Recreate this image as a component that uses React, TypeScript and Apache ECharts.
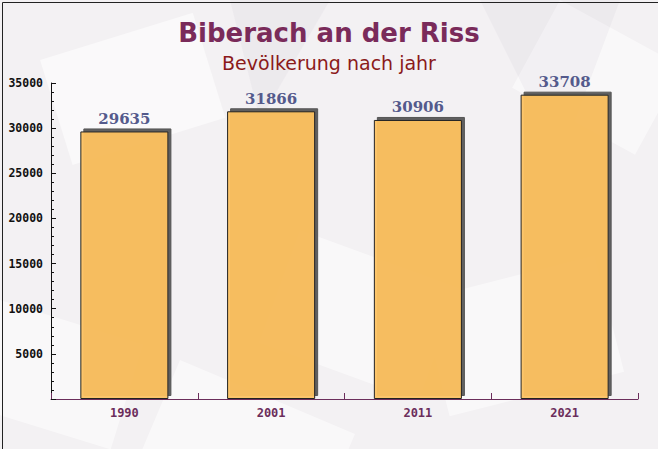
import React, { useEffect, useRef } from "react";
import * as echarts from "echarts";

const categories = ["1990", "2001", "2011", "2021"];
const population = [29635, 31866, 30906, 33708];
const titleText = "Biberach an der Riss";
const subtitleText = "Bevölkerung nach jahr";

export default function App() {
  const ref = useRef<HTMLDivElement>(null);
  useEffect(() => {
    document.body.style.margin = "0";
    const chart = echarts.init(ref.current!, null, { renderer: "svg" });
    const bgShapes: any[] = [
      { type: "rect", x: 40, y: 60, rotation: 0.3, shape: { width: 160, height: 110 }, style: { fill: "rgba(255,255,255,0.55)" } },
      { type: "rect", x: 300, y: 230, rotation: -0.35, shape: { width: 170, height: 120 }, style: { fill: "rgba(255,255,255,0.5)" } },
      { type: "rect", x: 420, y: 300, rotation: 0.25, shape: { width: 180, height: 120 }, style: { fill: "rgba(255,255,255,0.5)" } },
      { type: "rect", x: 0, y: 300, rotation: -0.3, shape: { width: 150, height: 110 }, style: { fill: "rgba(255,255,255,0.5)" } },
      { type: "rect", x: 180, y: 360, rotation: -0.4, shape: { width: 190, height: 130 }, style: { fill: "rgba(255,255,255,0.5)" } },
      { type: "rect", x: 560, y: 0, rotation: -0.5, shape: { width: 140, height: 100 }, style: { fill: "rgba(255,255,255,0.5)" } },
      { type: "polygon", shape: { points: [[230, 0], [330, 0], [260, 120]] }, style: { fill: "rgba(200,195,205,0.15)" } },
      { type: "polygon", shape: { points: [[480, 0], [620, 0], [560, 160]] }, style: { fill: "rgba(200,195,205,0.15)" } },
    ];
    chart.setOption({
      animation: false,
      backgroundColor: "#f3f1f3",
      graphic: [
        { type: "group", silent: true, z: -10, children: bgShapes },
        { type: "rect", left: 0, top: 0, shape: { width: 657, height: 448 }, style: { fill: "none", stroke: "#222", lineWidth: 1 }, z: 100 },
      ],
      title: [
        {
          text: titleText,
          left: "center",
          top: 15,
          textStyle: { fontFamily: "DejaVu Sans", fontWeight: "bold", fontSize: 26, color: "#7a2b5a" },
        },
        {
          text: subtitleText,
          left: "center",
          top: 48,
          textStyle: { fontFamily: "DejaVu Sans", fontWeight: "normal", fontSize: 19, color: "#8b1a1a" },
        },
      ],
      grid: { left: 51, right: 20, top: 83, bottom: 50, containLabel: false },
      xAxis: {
        type: "category",
        data: categories,
        axisLine: { lineStyle: { color: "#6b2d5b", width: 1 } },
        axisTick: { show: true, inside: true, length: 6, lineStyle: { color: "#6b2d5b" } },
        axisLabel: {
          fontFamily: "DejaVu Sans Mono",
          fontWeight: "bold",
          fontSize: 12,
          color: "#6b2d5b",
          margin: 8,
        },
      },
      yAxis: {
        type: "value",
        min: 0,
        max: 35000,
        interval: 5000,
        axisLine: { show: true, lineStyle: { color: "#111", width: 1 } },
        axisTick: { show: true, inside: true, length: 5, lineStyle: { color: "#111" } },
        minorTick: { show: true, splitNumber: 5, length: 3, lineStyle: { color: "#111" } },
        splitLine: { show: false },
        axisLabel: {
          fontFamily: "DejaVu Sans Mono",
          fontWeight: "bold",
          fontSize: 11.5,
          color: "#111",
          margin: 8,
          formatter: (v: number) => (v === 0 ? "" : String(v)),
        },
      },
      series: [
        {
          type: "bar",
          data: population,
          barWidth: "60%",
          itemStyle: {
            color: "rgba(253,194,96,0.93)",
            borderColor: "#222",
            borderWidth: 1,
            shadowColor: "#555555",
            shadowBlur: 0,
            shadowOffsetX: 3,
            shadowOffsetY: -3,
          },
          label: {
            show: true,
            position: "top",
            distance: 5,
            fontFamily: "DejaVu Serif",
            fontWeight: "bold",
            fontSize: 15,
            color: "#545a8c",
          },
        },
      ],
    });
    return () => chart.dispose();
  }, []);
  return <div ref={ref} style={{ width: 658, height: 449 }} />;
}
